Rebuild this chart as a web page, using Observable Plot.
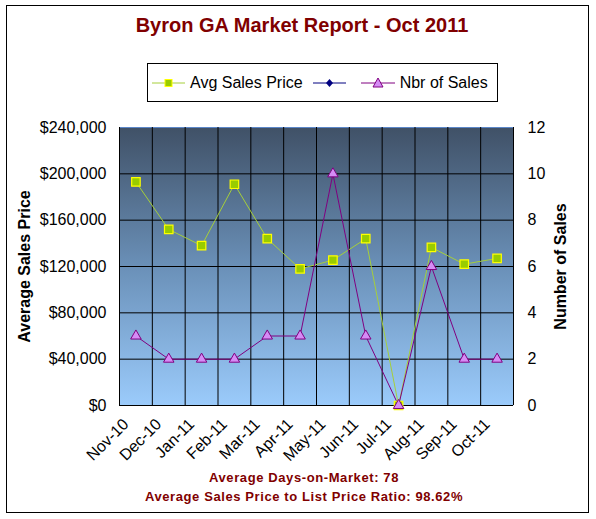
<!DOCTYPE html>
<html>
<head>
<meta charset="utf-8">
<script src="https://cdn.jsdelivr.net/npm/d3@7"></script>
<script src="https://cdn.jsdelivr.net/npm/@observablehq/plot@0.6"></script>
<style>
  body { margin: 0; background: #fff; }
  #wrap { position: relative; width: 596px; height: 519px; font-family: Arial, "Liberation Sans", sans-serif; }
  #wrap svg.plot { position: absolute; left: 0; top: 0; }
  #border { position: absolute; left: 6px; top: 5px; width: 583px; height: 508px; border: 1px solid #000; box-sizing: border-box; pointer-events: none; }
  #title { position: absolute; left: 0; width: 604px; top: 14px; text-align: center; font-size: 20px; font-weight: bold; color: #800000; letter-spacing: 0px; }
  #legend { position: absolute; left: 147px; top: 63px; width: 351px; height: 39px; border: 1px solid #000; box-sizing: border-box; background: #fff; display: flex; align-items: center; font-size: 16px; color: #000; white-space: nowrap; }
  #legend svg { display: block; }
  .note { position: absolute; left: 0; width: 608px; text-align: center; font-size: 13px; font-weight: bold; color: #800000; letter-spacing: 0.6px; }
</style>
</head>
<body>
<div id="wrap">
  <div id="border"></div>
  <div id="title"></div>
  <div id="legend"></div>
  <div class="note" id="note1" style="top:470px"></div>
  <div class="note" id="note2" style="top:489px"></div>
</div>
<script>
const months = ["Nov-10","Dec-10","Jan-11","Feb-11","Mar-11","Apr-11","May-11","Jun-11","Jul-11","Aug-11","Sep-11","Oct-11"];
const avgPrice = [193000,152000,138000,191000,144000,118000,125500,144000,0,136500,122000,127000];
const nbrSales = [3,2,2,2,3,3,10,3,0,6,2,2];
const priceTicks = [0,40000,80000,120000,160000,200000,240000];
const countTicks = [0,2,4,6,8,10,12];
const seriesNames = ["Avg Sales Price", "", "Nbr of Sales"];
const titleText = "Byron GA Market Report - Oct 2011";
const noteTexts = ["Average Days-on-Market: 78", "Average Sales Price to List Price Ratio: 98.62%"];

const priceMax = priceTicks[priceTicks.length - 1];
const countMax = countTicks[countTicks.length - 1];
const k = priceMax / countMax; // secondary axis mapping

const idx = months.map((_, i) => i);
const priceData = idx.map(i => ({i, v: avgPrice[i]}));
const countData = idx.map(i => ({i, v: nbrSales[i] * k}));
const boundaries = d3.range(months.length + 1).map(i => i - 0.5);

const FONT = 'Arial, "Liberation Sans", sans-serif';
const GREEN_LINE = "#a6cf3a", SQ_FILL = "#99cc00", SQ_STROKE = "#ffff00";
const PURPLE = "#800080", TRI_FILL = "#d58cf5";

const gradient = () => {
  const defs = d3.create("svg:defs");
  const g = defs.append("linearGradient").attr("id", "bgGrad")
    .attr("x1", 0).attr("y1", 0).attr("x2", 0).attr("y2", 1);
  g.append("stop").attr("offset", "0%").attr("stop-color", "#405167");
  g.append("stop").attr("offset", "50%").attr("stop-color", "#6a90b8");
  g.append("stop").attr("offset", "100%").attr("stop-color", "#9bcbfb");
  return defs.node();
};

const chart = Plot.plot({
  width: 596,
  height: 519,
  marginTop: 127,
  marginBottom: 114,
  marginLeft: 119,
  marginRight: 83,
  style: {fontFamily: FONT, background: "transparent", color: "#000", overflow: "visible"},
  x: {type: "linear", domain: [-0.5, months.length - 0.5]},
  y: {domain: [0, priceMax]},
  marks: [
    gradient,
    Plot.frame({fill: "url(#bgGrad)", stroke: null}),
    Plot.ruleY(priceTicks.slice(0, -1), {stroke: "#000", strokeWidth: 1}),
    Plot.ruleY([priceMax], {stroke: "#5b87c9", strokeWidth: 1}),
    Plot.ruleX(boundaries, {stroke: "#000", strokeWidth: 1}),
    Plot.line(priceData, {x: "i", y: "v", stroke: GREEN_LINE, strokeWidth: 1}),
    Plot.line(countData, {x: "i", y: "v", stroke: PURPLE, strokeWidth: 1}),
    Plot.dot(priceData, {x: "i", y: "v", symbol: "square", r: 4.8, fill: SQ_FILL, stroke: SQ_STROKE, strokeWidth: 1.2}),
    Plot.dot(countData, {x: "i", y: "v", symbol: "triangle", r: 3.9, fill: TRI_FILL, stroke: PURPLE, strokeWidth: 1}),
    Plot.axisY(priceTicks, {anchor: "left", tickSize: 0, tickPadding: 13, fontSize: 16, tickFormat: d3.format("$,"), label: null}),
    Plot.axisY(countTicks.map(c => c * k), {anchor: "right", tickSize: 0, tickPadding: 14, fontSize: 16, tickFormat: d => d / k, label: null}),
    Plot.axisX(idx, {anchor: "bottom", tickSize: 0, tickPadding: 8, fontSize: 16, tickRotate: -45, tickFormat: i => months[i], label: null, dx: -10, dy: 8}),
    Plot.text(["Average Sales Price"], {frameAnchor: "left", textAnchor: "middle", rotate: -90, dx: -95, fontSize: 16, fontWeight: "bold", fill: "#000"}),
    Plot.text(["Number of Sales"], {frameAnchor: "right", textAnchor: "middle", rotate: -90, dx: 47, fontSize: 16, fontWeight: "bold", fill: "#000"})
  ]
});
chart.classList.add("plot");
document.getElementById("wrap").insertBefore(chart, document.getElementById("border"));

document.getElementById("title").textContent = titleText;
document.getElementById("note1").textContent = noteTexts[0];
document.getElementById("note2").textContent = noteTexts[1];

// Legend
const legend = d3.select("#legend");
function icon(w, lineColor, drawMarker) {
  const s = legend.append("svg").attr("width", w).attr("height", 20);
  s.append("line").attr("x1", 0).attr("x2", w).attr("y1", 10).attr("y2", 10).attr("stroke", lineColor).attr("stroke-width", 1);
  drawMarker(s, w / 2, 10);
  return s;
}
function label(text, ml, mr) {
  legend.append("span").text(text).style("margin-left", ml + "px").style("margin-right", mr + "px");
}
legend.append("span").style("width", "4px");
icon(33, GREEN_LINE, (s, cx, cy) => s.append("rect").attr("x", cx - 3.5).attr("y", cy - 3.5).attr("width", 7).attr("height", 7).attr("fill", SQ_FILL).attr("stroke", SQ_STROKE));
label(seriesNames[0], 5, 10);
icon(33, "#000080", (s, cx, cy) => s.append("path").attr("d", `M${cx},${cy-4}L${cx+3.5},${cy}L${cx},${cy+4}L${cx-3.5},${cy}Z`).attr("fill", "#000080"));
legend.append("span").style("width", "15px");
icon(34, PURPLE, (s, cx, cy) => s.append("path").attr("d", `M${cx},${cy-5}L${cx+5},${cy+4}L${cx-5},${cy+4}Z`).attr("fill", TRI_FILL).attr("stroke", PURPLE));
label(seriesNames[2], 5, 0);
</script>
</body>
</html>
